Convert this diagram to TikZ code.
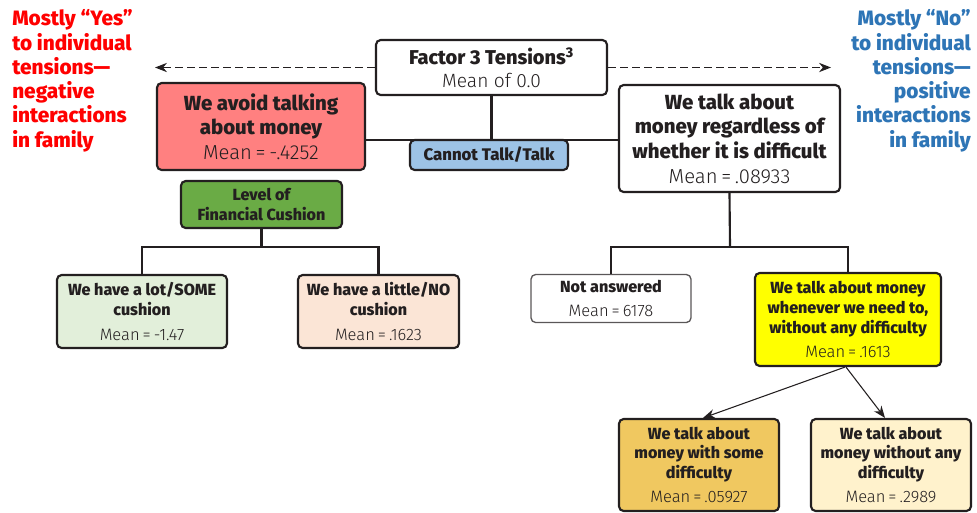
\documentclass[tikz,border=0pt]{standalone}
\usepackage{fontspec}
\setmainfont{Fira Sans}
\newfontfamily\lightfont{Fira Sans Light}
\newfontfamily\xb{Fira Sans ExtraBold}
\usetikzlibrary{arrows.meta}
\definecolor{linec}{HTML}{231F20}
\definecolor{redtxt}{HTML}{FF0000}
\definecolor{bluetxt}{HTML}{2E75B6}
\definecolor{redbox}{HTML}{FF8080}
\definecolor{bluebox}{HTML}{9DC3E6}
\definecolor{greenbox}{HTML}{6AAB45}
\definecolor{lgreen}{HTML}{E2EFDA}
\definecolor{peach}{HTML}{FBE5D6}
\definecolor{yellowbox}{HTML}{FFFF00}
\definecolor{gold}{HTML}{F0C860}
\definecolor{lyellow}{HTML}{FFF2CC}
\newcommand{\eqsp}{\hspace{0.18em}=\hspace{0.18em}}
\newcommand{\bigmean}[1]{{\lightfont\fontsize{15.2}{18.5}\selectfont Mean\eqsp#1}}
\newcommand{\smallmean}[1]{{\lightfont\fontsize{12.4}{15}\selectfont Mean\eqsp#1}}
\begin{document}
\begin{tikzpicture}[x=0.75pt,y=-0.75pt,
  box/.style={draw=linec, line width=1.6pt, rounded corners=3.5pt, align=center, inner sep=0pt, text=linec},
  sz/.style 2 args={minimum width=#1*0.75pt, minimum height=#2*0.75pt},
  bigfont/.style={font=\fontsize{15.3}{18.5}\selectfont},
  smallfont/.style={font=\fontsize{12.1}{14.8}\selectfont},
  conn/.style={draw=linec, line width=1.6pt},
  dasharrow/.style={draw=linec, line width=0.8pt, dash pattern=on 6pt off 3pt, -{Stealth[length=9pt,width=7pt]}},
  arr/.style={draw=linec, line width=0.8pt, -{Stealth[length=9pt,width=7pt]}},
  side/.style={font=\fontsize{15.6}{18.2}\selectfont\xb, inner sep=0pt}
]
\useasboundingbox (0,0) rectangle (977,512);

% side texts
\node[side, text=redtxt, align=left, anchor=north west] (lefttxt) at (12,9.5)
  {Mostly “Yes”\\to individual\\tensions—\\negative\\interactions\\in family};
\node[side, text=bluetxt, align=right, anchor=north east] (righttxt) at (971,9.5)
  {Mostly “No”\\to individual\\tensions—\\positive\\interactions\\in family};

% top box
\node[box, fill=white, sz={231}{55}, font=\fontsize{14.4}{17.5}\selectfont] (top) at (491.5,67.5)
  {{\xb\fontsize{15}{17.5}\selectfont Factor 3 Tensions\textsuperscript{3}}\\{\lightfont Mean of 0.0}};

\draw[dasharrow] (top.west) -- (155,67.5) coordinate (lefttip);
\draw[dasharrow] (top.east) -- (831,67.5) coordinate (righttip);

% level 1 boxes
\node[box, fill=redbox, sz={208}{87}, bigfont] (red) at (261,126.5)
  {\xb We avoid talking\\\xb about money\\\bigmean{-.4252}};
\node[box, fill=white, sz={221}{107}, bigfont] (right) at (729.5,138.5)
  {\xb We talk about\\\xb money regardless of\\\xb whether it is difficult\\\bigmean{.08933}};

\coordinate (j1) at (491.5,140);
\draw[conn] (top.south) -- (j1);
\draw[conn] (red.east |- j1) -- (right.west |- j1);

\node[box, fill=bluebox, sz={158}{30}, font=\fontsize{12.6}{14.6}\selectfont\xb] (cannot) at (489,155)
  {Cannot Talk/Talk};

% left subtree
\node[box, fill=greenbox, sz={161}{47}, smallfont] (green) at (261.5,204.5)
  {\xb Level of\\\xb Financial Cushion};

\node[box, fill=lgreen, sz={170}{73}, smallfont] (lot) at (142,311.5)
  {\xb We have a lot/SOME\\\xb cushion\\[3.5pt]\smallmean{-1.47}};
\node[box, fill=peach, sz={161}{73}, smallfont] (little) at (378.5,311.5)
  {\xb We have a little/NO\\\xb cushion\\[3.5pt]\smallmean{.1623}};

\coordinate (j2) at (261.5,247);
\draw[conn] (green.south) -- (j2);
\draw[conn] (lot.north) |- (j2) -| (little.north);

% right subtree
\node[box, draw=linec!75, line width=1pt, fill=white, sz={160}{48}, smallfont] (notans) at (611,298.5)
  {\xb Not answered\\[3.5pt]\smallmean{6178}};
\node[box, fill=yellowbox, sz={186}{93}, smallfont] (yel) at (848,319.5)
  {\xb We talk about money\\\xb whenever we need to,\\\xb without any difficulty\\[3.5pt]\smallmean{.1613}};

\coordinate (j3) at (730,247);
\draw[conn] (right.south) -- (j3);
\draw[conn] (notans.north) |- (j3) -| (yel.north);

% bottom boxes
\node[box, fill=gold, sz={160}{92}, smallfont] (some) at (699,465)
  {\xb We talk about\\\xb money with some\\\xb difficulty\\[3.5pt]\smallmean{.05927}};
\node[box, fill=lyellow, sz={160}{92}, smallfont] (without) at (891,465)
  {\xb We talk about\\\xb money without any\\\xb difficulty\\[3.5pt]\smallmean{.2989}};

\draw[arr] ([xshift=-3*0.75pt]yel.south) -- ([xshift=4*0.75pt]some.north);
\draw[arr] ([xshift=-2*0.75pt]yel.south) -- ([xshift=-6*0.75pt]without.north);
\end{tikzpicture}
\end{document}
